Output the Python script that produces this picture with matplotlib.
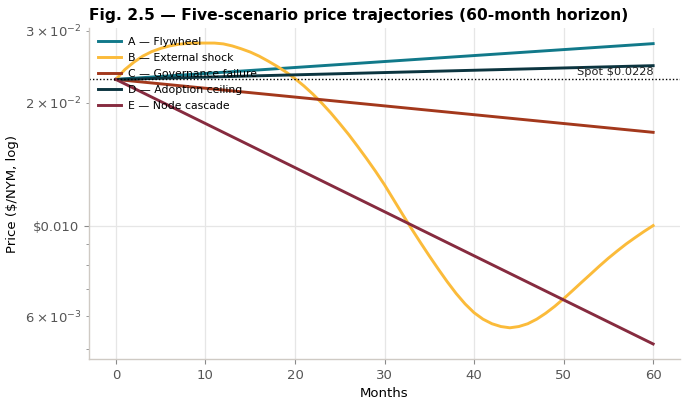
import matplotlib
matplotlib.use("Agg")
import matplotlib.pyplot as plt
from matplotlib.ticker import FuncFormatter

spot = 0.0228

months_line = [0, 60]
a_flywheel = [0.0228, 0.0279]
c_governance = [0.0228, 0.01692]
d_adoption = [0.0228, 0.02464]
e_cascade = [0.0228, 0.00513]

months_b = list(range(0, 61))
b_shock = [0.02280, 0.02410, 0.02512, 0.02600, 0.02667, 0.02716, 0.02754,
           0.02780, 0.02793, 0.02799, 0.02799, 0.02799, 0.02786, 0.02754,
           0.02710, 0.02661, 0.02600, 0.02529, 0.02455, 0.02377, 0.02291,
           0.02198, 0.02099, 0.01995, 0.01888, 0.01778, 0.01671, 0.01563,
           0.01459, 0.01358, 0.01259, 0.01159, 0.01067, 0.00984, 0.00910,
           0.00843, 0.00783, 0.00729, 0.00682, 0.00643, 0.00612, 0.00590,
           0.00575, 0.00566, 0.00562, 0.00566, 0.00575, 0.00590, 0.00610,
           0.00634, 0.00662, 0.00693, 0.00726, 0.00760, 0.00796, 0.00832,
           0.00867, 0.00902, 0.00935, 0.00968, 0.01000]

labels = ["A — Flywheel", "B — External shock", "C — Governance failure",
          "D — Adoption ceiling", "E — Node cascade"]
colors = ["#11798a", "#fbbb3a", "#a3381c", "#0c3540", "#862b3f"]

fig = plt.figure(figsize=(6.9, 4.09), dpi=100)
ax = fig.add_axes([0.129, 0.1222, 0.8565, 0.8093])

lw = 2.1
ax.plot(months_line, a_flywheel, color=colors[0], lw=lw, label=labels[0])
ax.plot(months_b, b_shock, color=colors[1], lw=lw, label=labels[1])
ax.plot(months_line, c_governance, color=colors[2], lw=lw, label=labels[2])
ax.plot(months_line, d_adoption, color=colors[3], lw=lw, label=labels[3])
ax.plot(months_line, e_cascade, color=colors[4], lw=lw, label=labels[4])

ax.set_yscale("log")
ax.axhline(spot, color="black", lw=1.0, ls=(0, (1, 1.5)))
ax.text(60, spot * 1.014, "Spot \\$0.0228", ha="right", va="bottom",
        fontsize=8.2, color="#222222")

ax.yaxis.set_major_formatter(FuncFormatter(lambda v, _: f"\\${v:.3f}"))
ax.set_xticks([0, 10, 20, 30, 40, 50, 60])
ax.grid(True, which="major", color="#e6e6e6", lw=0.9)
ax.set_axisbelow(True)

for s in ["top", "right"]:
    ax.spines[s].set_visible(False)
for s in ["left", "bottom"]:
    ax.spines[s].set_color("#cfcac4")
    ax.spines[s].set_linewidth(1.0)
ax.tick_params(which="both", colors="#8a8a8a", labelcolor="#555555", labelsize=9.5)

ax.set_xlabel("Months", fontsize=9.5)
ax.set_ylabel("Price (\\$/NYM, log)", fontsize=9.5)
ax.set_title("Fig. 2.5 — Five-scenario price trajectories (60-month horizon)",
             loc="left", fontsize=11.2, fontweight="bold", pad=6)

ax.legend(loc="upper left", frameon=False, fontsize=7.8, handlelength=2.1,
          handletextpad=0.65, labelspacing=0.55, borderaxespad=0.45)

fig.savefig("out.png", dpi=100)
